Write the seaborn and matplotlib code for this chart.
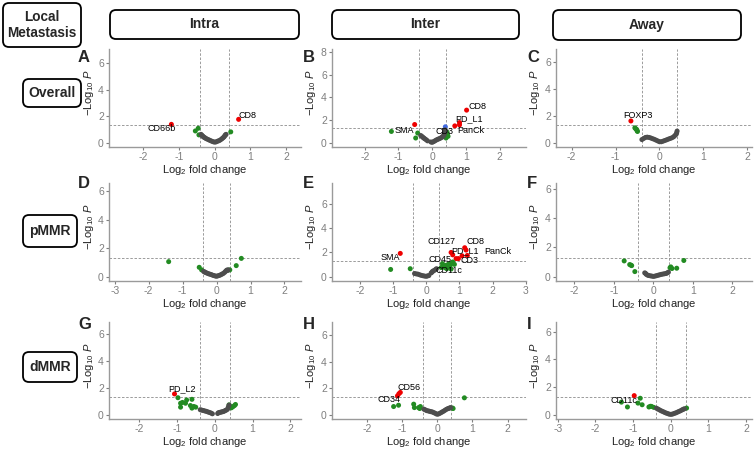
import matplotlib
matplotlib.use("Agg")
import matplotlib.pyplot as plt
import seaborn as sns
import pandas as pd
from matplotlib.patches import FancyBboxPatch
from matplotlib.ticker import MultipleLocator

# classes: r = log2FC and P, b = P only, g = log2FC only, n = not significant

# A  Overall / Intra
fc_A = [0.67, -1.21, -0.54, -0.46, -0.44, 0.45,
        -0.38, -0.36, -0.34, -0.32, -0.30, -0.27, -0.24, -0.20, -0.16, -0.12, -0.08, -0.04,
        0.00, 0.04, 0.08, 0.12, 0.16, 0.20, 0.23, 0.26, 0.28, 0.30, 0.32]
lp_A = [1.76, 1.38, 0.88, 1.08, 0.58, 0.81,
        0.62, 0.55, 0.50, 0.45, 0.40, 0.36, 0.30, 0.25, 0.20, 0.15, 0.10, 0.06,
        0.03, 0.05, 0.10, 0.14, 0.20, 0.28, 0.35, 0.42, 0.50, 0.58, 0.62]
grp_A = "rr" + "gggg" + "nnnnnnnnnnnnnnnnnnnnnnn"
lab_A = ["CD8", "CD66b"]
labi_A = [0, 1]

# B  Overall / Inter
fc_B = [1.02, 0.81, 0.81, 0.67, -0.52, 0.39,
        -1.21, -0.43, -0.49, 0.41, 0.44, 0.45, 0.47,
        -0.34, -0.31, -0.28, -0.25, -0.22, -0.18, -0.14, -0.04, 0.00, 0.04, 0.08,
        0.12, 0.16, 0.20, 0.24, 0.28, 0.31, 0.34, 0.36, 0.37, 0.38, 0.38]
lp_B = [2.86, 1.76, 1.56, 1.47, 1.59, 1.39,
        0.98, 0.84, 0.40, 0.40, 0.92, 0.70, 0.55,
        0.62, 0.55, 0.47, 0.40, 0.33, 0.25, 0.15, 0.05, 0.02, 0.08, 0.15,
        0.22, 0.28, 0.33, 0.38, 0.45, 0.52, 0.62, 0.75, 0.88, 1.00, 1.12]
grp_B = "rrrrr" + "b" + "ggggggg" + "nnnnnnnnnnnnnnnnnnnnnn"
lab_B = ["CD8", "PD_L1", "PanCk", "SMA", "CD3"]
labi_B = [0, 1, 2, 4, 10]

# C  Overall / Away
fc_C = [-0.65, -0.56, -0.54, -0.52, -0.51, -0.50,
        -0.40, -0.36, -0.32, -0.28, -0.24, -0.20, -0.16, -0.12, -0.08, -0.04, 0.00, 0.04,
        0.08, 0.12, 0.16, 0.20, 0.24, 0.28, 0.32, 0.35, 0.38, 0.39, 0.40]
lp_C = [1.60, 1.09, 1.02, 0.97, 0.88, 0.82,
        0.22, 0.30, 0.38, 0.40, 0.38, 0.34, 0.29, 0.24, 0.18, 0.12, 0.06, 0.06,
        0.10, 0.15, 0.20, 0.25, 0.30, 0.35, 0.42, 0.52, 0.62, 0.72, 0.85]
grp_C = "r" + "ggggg" + "nnnnnnnnnnnnnnnnnnnnnnn"
lab_C = ["FOXP3"]
labi_C = [0]

# D  pMMR / Intra
fc_D = [-1.41, -0.51, -0.44, 0.39, 0.58, 0.73,
        -0.38, -0.35, -0.32, -0.28, -0.24, -0.20, -0.16, -0.12, -0.08, -0.04, 0.00,
        0.04, 0.08, 0.12, 0.16, 0.20, 0.24, 0.27, 0.30, 0.32, 0.34]
lp_D = [1.05, 0.65, 0.47, 0.47, 0.77, 1.28,
        0.36, 0.32, 0.28, 0.24, 0.20, 0.17, 0.14, 0.10, 0.07, 0.04, 0.02,
        0.05, 0.08, 0.12, 0.17, 0.22, 0.30, 0.38, 0.45, 0.42, 0.48]
grp_D = "gggggg" + "nnnnnnnnnnnnnnnnnnnnn"
lab_D = []
labi_D = []

# E  pMMR / Inter
fc_E = [1.16, 1.20, 0.75, 0.80, 1.24, 1.08, 0.97, 0.90, -0.78,
        -1.07, -0.48, 0.45, 0.49, 0.52, 0.55, 0.57, 0.60, 0.62, 0.66, 0.70, 0.72, 0.75,
        0.78, 0.80, 0.85,
        -0.35, -0.30, -0.25, -0.20, -0.15, -0.10, -0.05, 0.00, 0.04, 0.08, 0.15, 0.18,
        0.20, 0.24, 0.28, 0.31]
lp_E = [2.39, 2.20, 2.00, 1.80, 1.75, 1.72, 1.49, 1.49, 1.92,
        0.59, 0.65, 0.75, 1.07, 0.90, 0.82, 0.73, 0.93, 0.65, 1.00, 1.07, 0.90, 0.62,
        1.10, 1.21, 1.01,
        0.25, 0.22, 0.20, 0.15, 0.10, 0.07, 0.04, 0.02, 0.05, 0.08, 0.30, 0.38,
        0.45, 0.50, 0.58, 0.65]
grp_E = "rrrrrrrrr" + "gggggggggggggggg" + "nnnnnnnnnnnnnnnn"
lab_E = ["CD8", "CD127", "PD_L1", "PanCk", "CD3", "SMA", "CD45", "CD11c"]
labi_E = [0, 2, 3, 4, 6, 8, 12, 17]

# F  pMMR / Away
fc_F = [-0.74, -0.60, -0.57, -0.55, -0.47, 0.42, 0.44, 0.47, 0.59, 0.77,
        -0.22, -0.20, -0.18, -0.15, -0.12, -0.08, -0.04, 0.00, 0.04, 0.08, 0.12, 0.16,
        0.20, 0.24, 0.28, 0.32, 0.35, 0.38]
lp_F = [1.07, 0.82, 0.78, 0.75, 0.34, 0.60, 0.66, 0.55, 0.57, 1.10,
        0.25, 0.22, 0.15, 0.10, 0.07, 0.05, 0.03, 0.01, 0.03, 0.06, 0.09, 0.12,
        0.15, 0.17, 0.19, 0.21, 0.25, 0.30]
grp_F = "gggggggggg" + "nnnnnnnnnnnnnnnnnn"
lab_F = []
labi_F = []

# G  dMMR / Intra
fc_G = [-1.06,
        -0.97, -0.90, -0.90, -0.85, -0.77, -0.74, -0.64, -0.60, -0.60, -0.55, -0.50,
        0.38, 0.41, 0.44, 0.48, 0.52, 0.55,
        -0.38, -0.34, -0.30, -0.26, -0.22, -0.18, -0.14, -0.10, -0.06, 0.08, 0.10,
        0.13, 0.16, 0.19, 0.22, 0.25, 0.28, 0.31, 0.34, 0.36, 0.38]
lp_G = [1.53,
        1.25, 0.84, 0.55, 0.90, 0.84, 1.08, 0.67, 1.13, 0.48, 0.60, 0.55,
        0.72, 0.60, 0.50, 0.58, 0.66, 0.75,
        0.36, 0.33, 0.30, 0.27, 0.24, 0.20, 0.16, 0.12, 0.06, 0.08, 0.14,
        0.16, 0.18, 0.20, 0.22, 0.25, 0.30, 0.34, 0.40, 0.55, 0.70]
grp_G = "r" + "ggggggggggggggggg" + "nnnnnnnnnnnnnnnnnnnnn"
lab_G = ["PD_L2"]
labi_G = [0]

# H  dMMR / Inter
fc_H = [-1.13, -1.09, -1.05,
        -1.24, -1.10, -0.67, -0.65, -0.53, -0.48, -0.50, 0.43, 0.45, 0.77,
        -0.38, -0.34, -0.30, -0.26, -0.22, -0.18, -0.14, -0.10, -0.06, -0.02, 0.02,
        0.06, 0.10, 0.14, 0.18, 0.22, 0.26, 0.30, 0.33, 0.36, 0.38]
lp_H = [1.42, 1.58, 1.68,
        0.61, 0.71, 0.79, 0.53, 0.53, 0.61, 0.46, 0.50, 0.46, 1.27,
        0.41, 0.36, 0.30, 0.28, 0.25, 0.22, 0.20, 0.15, 0.10, 0.04, 0.03,
        0.08, 0.14, 0.20, 0.26, 0.33, 0.40, 0.45, 0.48, 0.50, 0.53]
grp_H = "rrr" + "gggggggggg" + "nnnnnnnnnnnnnnnnnnnnn"
lab_H = ["CD56", "CD34"]
labi_H = [2, 4]

# I  dMMR / Away
fc_I = [-0.97,
        -1.31, -1.15, -0.87, -0.81, -0.76, -0.58, -0.54, -0.51, -0.45, 0.42,
        -0.38, -0.34, -0.30, -0.26, -0.22, -0.18, -0.14, -0.10, -0.06, -0.02, 0.02,
        0.06, 0.10, 0.14, 0.18, 0.22, 0.26, 0.30, 0.33, 0.36]
lp_I = [1.37,
        0.90, 0.55, 0.83, 1.18, 0.71, 0.55, 0.60, 0.59, 0.52, 0.47,
        0.46, 0.40, 0.34, 0.28, 0.23, 0.18, 0.13, 0.09, 0.05, 0.02, 0.02,
        0.05, 0.09, 0.13, 0.18, 0.23, 0.28, 0.34, 0.38, 0.42]
grp_I = "r" + "gggggggggg" + "nnnnnnnnnnnnnnnnnnnn"
lab_I = ["CD11c"]
labi_I = [0]

col_titles = ["Intra", "Inter", "Away"]
row_titles = ["Overall", "pMMR", "dMMR"]
corner_title = "Local\nMetastasis"
panel_letters = ["A", "B", "C", "D", "E", "F", "G", "H", "I"]

panels = [(fc_A, lp_A, grp_A, lab_A, labi_A), (fc_B, lp_B, grp_B, lab_B, labi_B),
          (fc_C, lp_C, grp_C, lab_C, labi_C), (fc_D, lp_D, grp_D, lab_D, labi_D),
          (fc_E, lp_E, grp_E, lab_E, labi_E), (fc_F, lp_F, grp_F, lab_F, labi_F),
          (fc_G, lp_G, grp_G, lab_G, labi_G), (fc_H, lp_H, grp_H, lab_H, labi_H),
          (fc_I, lp_I, grp_I, lab_I, labi_I)]

# label offsets in pixels (dx, dy up)
lab_off = {
    ("A", "CD8"): (9, 4), ("A", "CD66b"): (-10, -4),
    ("B", "CD8"): (11, 4), ("B", "PD_L1"): (9, 4), ("B", "PanCk"): (11, -6),
    ("B", "SMA"): (-10, -6), ("B", "CD3"): (-3, 1),
    ("C", "FOXP3"): (7, 5),
    ("E", "CD8"): (11, 6), ("E", "CD127"): (-10, 11), ("E", "PD_L1"): (12, 4),
    ("E", "PanCk"): (30, 4), ("E", "CD3"): (11, -2), ("E", "SMA"): (-10, -4),
    ("E", "CD45"): (-2, 4), ("E", "CD11c"): (2, -2),
    ("G", "PD_L2"): (7, 5),
    ("H", "CD56"): (9, 5), ("H", "CD34"): (-10, 6),
    ("I", "CD11c"): (-10, -5),
}

pal = {"n": "#4D4D4D", "g": "#228B22", "b": "#4169E1", "r": "#EE0000"}

sns.set_style("ticks")
plt.rcParams["font.family"] = ["Liberation Sans", "DejaVu Sans"]
plt.rcParams["mathtext.fontset"] = "custom"
plt.rcParams["mathtext.rm"] = "Liberation Sans"
plt.rcParams["mathtext.it"] = "Liberation Sans:italic"
plt.rcParams["axes.unicode_minus"] = False

W, H = 756, 450
fig = plt.figure(figsize=(W / 100, H / 100), dpi=100)

# pixel overlay for boxes and panel letters
bg = fig.add_axes([0, 0, 1, 1])
bg.set_xlim(0, W)
bg.set_ylim(H, 0)
bg.axis("off")


def box(x0, y0, x1, y1, txt, fs):
    bg.add_patch(FancyBboxPatch((x0, y0), x1 - x0, y1 - y0,
                                boxstyle="round,pad=0,rounding_size=6",
                                fc="white", ec="black", lw=1.3))
    bg.text((x0 + x1) / 2, (y0 + y1) / 2, txt, ha="center", va="center",
            fontsize=fs, fontweight="bold", linespacing=1.1)


box(3, 3, 81, 47, corner_title, 9.8)
box(110, 10, 299, 39, col_titles[0], 10)
box(332, 10, 519, 39, col_titles[1], 10)
box(553, 10, 741, 40, col_titles[2], 10)
box(23, 79, 81, 107, row_titles[0], 10)
box(23, 215, 77, 247, row_titles[1], 10)
box(23, 352, 77, 382, row_titles[2], 10)

col_x = [109, 332, 556]
col_w = [192, 194, 196]
row_y = [49, 183, 322]
row_h = [98, 98, 97]
let_x = [78, 303, 527]
let_y = [49.5, 175.5, 317]

for k, (fc, lp, grp, labs, labi) in enumerate(panels):
    r, c = divmod(k, 3)
    x, y, w, h = col_x[c], row_y[r], col_w[c], row_h[r]
    ax = fig.add_axes([x / W, 1 - (y + h) / H, w / W, h / H])
    df = pd.DataFrame({"fc": fc, "lp": lp, "grp": list(grp)})
    ax.axvline(-0.4, color="#8c8c8c", lw=0.6, ls=(0, (3, 2)), zorder=0.5)
    ax.axvline(0.4, color="#8c8c8c", lw=0.6, ls=(0, (3, 2)), zorder=0.5)
    ax.axhline(1.3, color="#8c8c8c", lw=0.6, ls=(0, (3, 2)), zorder=0.5)
    sns.scatterplot(data=df, x="fc", y="lp", hue="grp", palette=pal, s=13,
                    linewidth=0, legend=False, ax=ax, zorder=2)
    lo, hi = min(fc) - 1.5, max(fc) + 1.5
    ax.set_xlim(lo - 0.05 * (hi - lo), hi + 0.05 * (hi - lo))
    top = max(lp) + 5
    ax.set_ylim(-0.05 * top, top * 1.05)
    ax.xaxis.set_major_locator(MultipleLocator(1))
    ax.yaxis.set_major_locator(MultipleLocator(2))
    sns.despine(ax=ax)
    for s in ["left", "bottom"]:
        ax.spines[s].set_color("#9a9a9a")
        ax.spines[s].set_linewidth(1.0)
    ax.tick_params(colors="#7f7f7f", labelsize=7.5, length=2.5, width=0.8, pad=1.2)
    ax.set_xlabel("Log$_2$ fold change", fontsize=8, color="#222222")
    ax.set_ylabel("\u2212Log$_{10}$ $P$", fontsize=8, color="#222222")
    ax.xaxis.set_label_coords(0.5, -0.16)
    ax.yaxis.set_label_coords(-0.07, 0.55)
    letter = panel_letters[k]
    for name, i in zip(labs, labi):
        dx, dy = lab_off[(letter, name)]
        ax.annotate(name, (fc[i], lp[i]), xytext=(dx, dy), textcoords="offset pixels",
                    ha="center", va="center", fontsize=6.5, color="black", zorder=3)
    bg.text(let_x[c], let_y[r], letter, ha="left", va="top", fontsize=12, fontweight="bold")

bg.set_zorder(-1)
fig.savefig("out.png", dpi=100)
